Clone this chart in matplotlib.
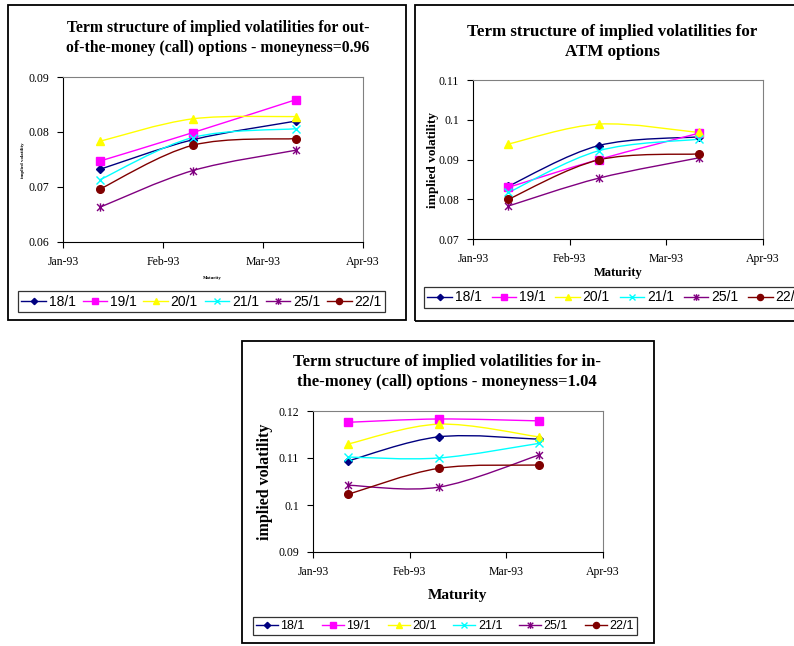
import matplotlib.pyplot as plt
from matplotlib.lines import Line2D
from matplotlib.patches import PathPatch, Rectangle
from matplotlib.path import Path

# maturities as days after 1 Jan 1993 (axis runs Jan-93 .. Apr-93)
maturity_days = [11, 39, 70]
tick_days = [0, 30, 60, 90]
tick_labels = ["Jan-93", "Feb-93", "Mar-93", "Apr-93"]

series_names = ["18/1", "19/1", "20/1", "21/1", "25/1", "22/1"]

otm_values = [
    [0.0732, 0.0786, 0.0820],
    [0.0747, 0.0799, 0.0859],
    [0.0783, 0.0824, 0.0828],
    [0.0713, 0.0790, 0.0806],
    [0.0663, 0.0730, 0.0767],
    [0.0696, 0.0776, 0.0788],
]
atm_values = [
    [0.0833, 0.0935, 0.0957],
    [0.0830, 0.0900, 0.0966],
    [0.0939, 0.0989, 0.0968],
    [0.0817, 0.0922, 0.0951],
    [0.0783, 0.0853, 0.0904],
    [0.0800, 0.0899, 0.0914],
]
itm_values = [
    [0.1094, 0.1145, 0.1140],
    [0.1176, 0.1183, 0.1179],
    [0.1130, 0.1172, 0.1145],
    [0.1102, 0.1100, 0.1131],
    [0.1042, 0.1038, 0.1106],
    [0.1023, 0.1078, 0.1085],
]

colors = ["#000080", "#FF00FF", "#FFFF00", "#00FFFF", "#800080", "#800000"]

# excel style star: an x with a vertical bar
star = Path(
    [(-1, -1), (1, 1), (-1, 1), (1, -1), (0, -1.2), (0, 1.2)],
    [Path.MOVETO, Path.LINETO, Path.MOVETO, Path.LINETO, Path.MOVETO, Path.LINETO],
)
markers = ["D", "s", "^", "x", star, "o"]
msizes = [4, 5.5, 5.5, 5.5, 6, 5.5]

W, H = 794, 646


def fx(px):
    return px / W


def fy(py):
    return 1 - py / H


def smooth_path(xs, ys):
    # bezier path like excel's "smoothed line"
    pts = list(zip(xs, ys))
    n = len(pts)
    verts = [pts[0]]
    codes = [Path.MOVETO]
    for i in range(n - 1):
        p0 = pts[max(i - 1, 0)]
        p1 = pts[i]
        p2 = pts[i + 1]
        p3 = pts[min(i + 2, n - 1)]
        c1 = (p1[0] + (p2[0] - p0[0]) / 6, p1[1] + (p2[1] - p0[1]) / 6)
        c2 = (p2[0] - (p3[0] - p1[0]) / 6, p2[1] - (p3[1] - p1[1]) / 6)
        verts += [c1, c2, p2]
        codes += [Path.CURVE4] * 3
    return Path(verts, codes)


def draw_chart(box, rect, values, ylim, yticks, title, title_xy, title_size,
               ylabel_xy, ylabel_size, xlabel_xy, xlabel_size, label_weight,
               legend_rect, legend_size):
    bl, bt, br, bb = box
    fig.add_artist(Rectangle((fx(bl), fy(bb)), (br - bl) / W, (bb - bt) / H,
                             transform=fig.transFigure, fill=False,
                             ec="black", lw=1.3))
    l, t, r, b = rect
    ax = fig.add_axes([fx(l), fy(b), (r - l) / W, (b - t) / H])
    for vals, c, m, ms in zip(values, colors, markers, msizes):
        ax.add_patch(PathPatch(smooth_path(maturity_days, vals), fc="none",
                               ec=c, lw=1.0, zorder=2))
        ax.plot(maturity_days, vals, linestyle="none", marker=m, ms=ms,
                color=c, mec=c, mew=1.0, zorder=3)
    ax.set_xlim(tick_days[0], tick_days[-1])
    ax.set_ylim(*ylim)
    ax.set_xticks(tick_days)
    ax.set_xticklabels(tick_labels)
    ax.set_yticks(yticks)
    ax.set_yticklabels([f"{v:g}" for v in yticks])
    ax.tick_params(direction="out", length=4, width=0.8, labelsize=8.5,
                   pad=6)
    for lab in ax.get_xticklabels() + ax.get_yticklabels():
        lab.set_family("Liberation Serif")
    for s in ["top", "right"]:
        ax.spines[s].set_color("#808080")
    for s in ax.spines.values():
        s.set_linewidth(0.8)

    fig.text(fx(title_xy[0]), fy(title_xy[1]), title, ha="center",
             va="center", fontsize=title_size, family="Liberation Serif",
             weight="bold", linespacing=1.25)
    fig.text(fx(ylabel_xy[0]), fy(ylabel_xy[1]), "implied volatility",
             rotation=90, ha="center", va="center", fontsize=ylabel_size,
             family="Liberation Serif", weight=label_weight)
    fig.text(fx(xlabel_xy[0]), fy(xlabel_xy[1]), "Maturity", ha="center",
             va="center", fontsize=xlabel_size, family="Liberation Serif",
             weight=label_weight)

    handles = [Line2D([], [], color=c, marker=m, ms=ms * 0.8, mec=c, lw=1.0)
               for c, m, ms in zip(colors, markers, msizes)]
    ll, lt, lr, lb = legend_rect
    leg = fig.legend(handles, series_names, loc="center", ncol=6,
                     bbox_to_anchor=(fx(ll), fy(lb), (lr - ll) / W, (lb - lt) / H),
                     mode="expand", frameon=True, fancybox=False,
                     edgecolor="black", handlelength=1.75, handletextpad=0.2,
                     columnspacing=1.0, borderpad=0.25, borderaxespad=0,
                     prop={"family": "Liberation Sans", "size": legend_size})
    leg.get_frame().set_linewidth(0.9)
    return ax


fig = plt.figure(figsize=(W / 100, H / 100), dpi=100)

draw_chart((8, 5, 406, 320), (63, 77, 363, 242), otm_values,
           (0.06, 0.09), [0.06, 0.07, 0.08, 0.09],
           "Term structure of implied volatilities for out-\n"
           "of-the-money (call) options - moneyness=0.96",
           (218, 38), 11.3, (23, 160), 3.5, (212, 278), 3.5, "bold",
           (18, 291, 385, 312), 10)

draw_chart((415, 5, 800, 321), (473, 80, 763, 239), atm_values,
           (0.07, 0.11), [0.07, 0.08, 0.09, 0.1, 0.11],
           "Term structure of implied volatilities for\nATM options",
           (612, 42), 12.2, (433, 160), 9.5, (618, 273), 9, "bold",
           (424, 287, 806, 308), 10)

draw_chart((242, 341, 654, 643), (313, 411, 603, 552), itm_values,
           (0.09, 0.12), [0.09, 0.1, 0.11, 0.12],
           "Term structure of implied volatilities for in-\n"
           "the-money (call) options - moneyness=1.04",
           (447, 372), 12, (265, 482), 11.5, (457, 595), 11, "bold",
           (253, 615, 637, 637), 9)

fig.savefig("out.png", dpi=100)
